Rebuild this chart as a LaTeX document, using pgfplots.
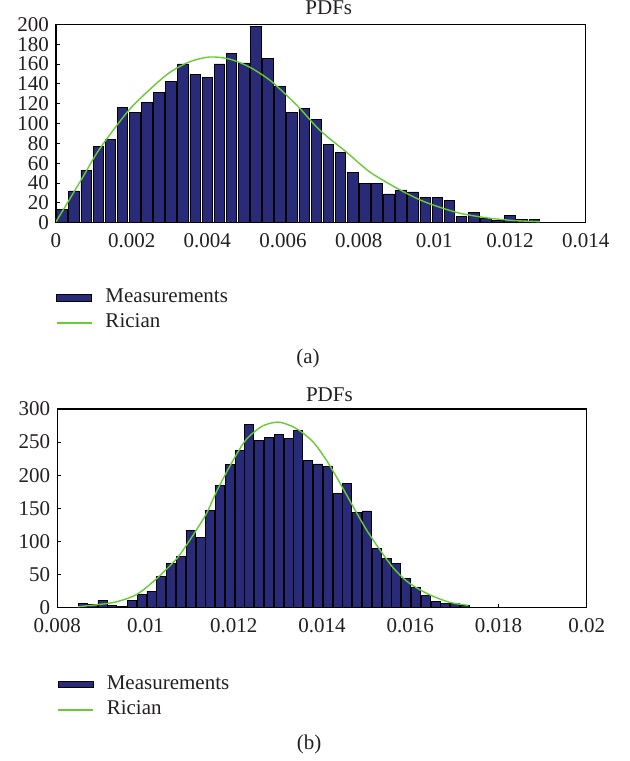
\documentclass[border=0pt]{standalone}
\usepackage{fontspec}
\setmainfont{Liberation Serif}
\usepackage{pgfplots}
\pgfplotsset{compat=1.18}
\definecolor{barnavy}{RGB}{42,43,120}
\definecolor{ricegreen}{RGB}{102,204,51}
\definecolor{txt}{RGB}{35,31,32}

\pgfplotsset{
 pdfstyle/.style={
  scale only axis, anchor=south west,
  axis line style={black,line width=0.6pt},
  tick align=inside, xtick pos=left, ytick pos=left,
  major tick length=2pt,
  tick style={black,line width=0.4pt},
  /pgf/number format/assume math mode=true,
  tick label style={font=\fontsize{10.5}{12}\selectfont, text=txt},
  xticklabel style={yshift=-2pt},
  scaled x ticks=false, scaled y ticks=false,
  ymin=0,
  every axis title shift=0pt,
  title style={font=\fontsize{10.5}{12}\selectfont, anchor=base, yshift=0pt, inner sep=0pt, text=txt},
  legend style={draw=none, fill=none, inner sep=0pt, outer sep=0pt, anchor=north west,
    font=\fontsize{10.5}{12}\selectfont, text=txt, row sep=3pt, column sep=6.5pt,
    nodes={inner sep=0pt, text depth=0.25em, text height=0.72em}},
  legend cell align=left,
 }
}

\begin{document}
\begin{tikzpicture}[font=\fontsize{10.5}{12}\selectfont]
\path[use as bounding box] (0,0) rectangle (314.5pt,380.5pt);

% ---------------- (a) ----------------
\begin{axis}[pdfstyle, at={(28pt,269.15pt)}, width=264.85pt, height=99.2pt,
  xmin=0, xmax=0.014, ymax=200,
  xtick={0,0.002,0.004,0.006,0.008,0.01,0.012,0.014},
  xticklabels={0,0.002,0.004,0.006,0.008,0.01,0.012,0.014},
  ytick={0,20,40,60,80,100,120,140,160,180,200},
  title=PDFs, title style={at={(0.515,1.0469)}},
  legend style={at={(0,-0.329)}}]
\addplot[ybar, bar width=0.00028, fill=barnavy, draw=black, line width=0.4pt,
  legend image code/.code={\draw[fill=barnavy,draw=black,line width=0.4pt] (0pt,-1.8pt) rectangle (17.5pt,1.8pt);}]
 table {
x y
0.00016 13
0.00048 32
0.00080 53
0.00112 77
0.00144 84
0.00176 116
0.00208 111
0.00240 121
0.00272 131
0.00304 142
0.00336 160
0.00368 149
0.00400 146
0.00432 160
0.00464 171
0.00496 161
0.00528 198
0.00560 166
0.00592 137
0.00624 111
0.00656 115
0.00688 104
0.00720 79
0.00752 71
0.00784 51
0.00816 40
0.00848 40
0.00880 29
0.00912 33
0.00944 31
0.00976 25
0.01008 25
0.01040 22
0.01072 6
0.01104 10
0.01136 4
0.01168 2
0.01200 7
0.01232 3
0.01264 3
};
\addlegendentry{Measurements}
\addplot[ricegreen, line width=0.7pt, smooth, tension=0.5,
  legend image code/.code={\draw[ricegreen,line width=0.75pt] (0pt,0pt) -- (17.5pt,0pt);}]
 coordinates {
(0,1) (0.00035,23) (0.00071,46) (0.00106,69) (0.00141,88) (0.00194,114)
(0.00247,134) (0.00299,151) (0.00352,162) (0.00405,167) (0.00458,165)
(0.00511,157) (0.00564,144) (0.00608,129) (0.00645,115) (0.00698,93)
(0.00768,71) (0.00830,51) (0.00900,35) (0.00962,23) (0.01015,15.5)
(0.01068,9.5) (0.01129,5.4) (0.01173,3.4) (0.01218,2) (0.01279,1)
};
\addlegendentry{Rician}
\end{axis}
\node[anchor=base, text=txt] at (154pt,198.5pt) {(a)};

% ---------------- (b) ----------------
\begin{axis}[pdfstyle, at={(28.65pt,76.65pt)}, width=264.7pt, height=99.35pt,
  xmin=0.008, xmax=0.02, ymax=300,
  xtick={0.008,0.01,0.012,0.014,0.016,0.018,0.02},
  xticklabels={0.008,0.01,0.012,0.014,0.016,0.018,0.02},
  ytick={0,50,100,150,200,250,300},
  title=PDFs, title style={at={(0.514,1.0367)}},
  legend style={at={(0,-0.337)}}]
\addplot[ybar, bar width=0.000204, fill=barnavy, draw=black, line width=0.4pt,
  legend image code/.code={\draw[fill=barnavy,draw=black,line width=0.4pt] (0pt,-1.35pt) rectangle (17.5pt,1.35pt);}]
 table {
x y
0.008580 6.5
0.008802 4.5
0.009024 10.6
0.009246 4
0.009468 2.5
0.009690 10.6
0.009912 20.6
0.010134 25
0.010356 47.8
0.010578 67
0.010800 77
0.011022 117
0.011244 106
0.011466 147
0.011688 184
0.011910 216
0.012132 238
0.012354 277
0.012576 253
0.012798 257
0.013020 262
0.013242 255
0.013464 267
0.013686 223
0.013908 217
0.014130 213
0.014352 173
0.014574 188
0.014796 144
0.015018 146
0.015240 89
0.015462 74.5
0.015684 67
0.015906 44
0.016128 31
0.016350 19
0.016572 10
0.016794 6
0.017016 7
0.017238 3.5
};
\addlegendentry{Measurements}
\addplot[ricegreen, line width=0.7pt, smooth, tension=0.5,
  legend image code/.code={\draw[ricegreen,line width=0.75pt] (0pt,0pt) -- (17.5pt,0pt);}]
 coordinates {
(0.008469,1.5) (0.008968,5) (0.009346,9) (0.009800,20) (0.010253,44)
(0.010707,74) (0.010933,95) (0.011160,118) (0.011387,143) (0.011614,176)
(0.011840,205) (0.012067,232) (0.012294,255) (0.012595,272) (0.012800,278)
(0.013049,280) (0.013350,273) (0.013502,267) (0.013804,250) (0.014107,222)
(0.014409,188) (0.014710,152) (0.015014,117) (0.015316,87) (0.015617,60)
(0.015921,40) (0.016223,27) (0.016524,17) (0.016902,8) (0.017317,3.5)
};
\addlegendentry{Rician}
\end{axis}
\node[anchor=base, text=txt] at (154.5pt,5.75pt) {(b)};
\end{tikzpicture}
\end{document}
